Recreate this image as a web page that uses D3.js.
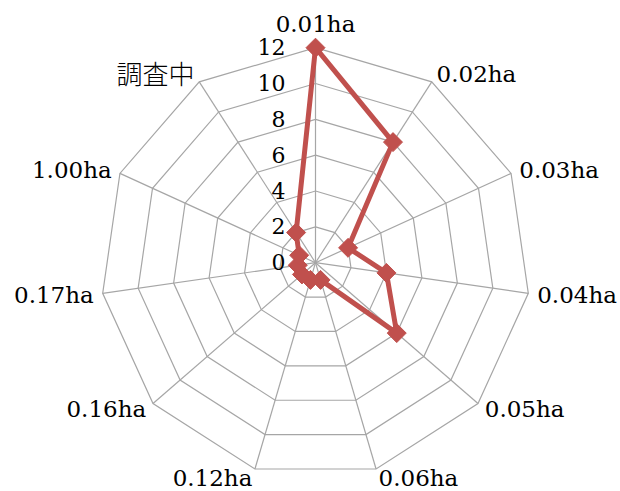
<!DOCTYPE html>
<html>
<head>
<meta charset="utf-8">
<script src="https://cdn.jsdelivr.net/npm/d3@7"></script>
<style>
  html, body { margin: 0; padding: 0; background: #fff; }
  svg { display: block; }
</style>
</head>
<body>
<svg id="chart" width="620" height="491"></svg>
<script>
// Plot area sizes by category
const categories = ["0.01ha", "0.02ha", "0.03ha", "0.04ha", "0.05ha", "0.06ha",
                    "0.12ha", "0.16ha", "0.17ha", "1.00ha", "調査中"];
const counts = [12, 8, 2, 4, 6, 1, 1, 1, 1, 1, 2];
const tickValues = [0, 2, 4, 6, 8, 10, 12];

const width = 620, height = 491;
const cx = 315.5, cy = 262.7, R = 215;
const serif = "'DejaVu Serif', 'Liberation Serif', serif";
const cjk = "'Noto Sans CJK JP', sans-serif";

const svg = d3.select("#chart");
const r = d3.scaleLinear().domain([0, 12]).range([0, R]);
const angle = d3.scalePoint().domain(categories).range([0, 2 * Math.PI * (1 - 1 / categories.length)]);

const pt = (cat, v) => {
  const a = angle(cat);
  return [cx + r(v) * Math.sin(a), cy - r(v) * Math.cos(a)];
};

const g = svg.append("g");

// Concentric grid polygons
const ringLine = d3.line().curve(d3.curveLinearClosed);
g.selectAll("path.ring")
  .data(tickValues.filter(t => t > 0))
  .join("path")
  .attr("class", "ring")
  .attr("d", t => ringLine(categories.map(c => pt(c, t))))
  .attr("fill", "none")
  .attr("stroke", "#a6a6a6")
  .attr("stroke-width", 1.2);

// Spokes
g.selectAll("line.spoke")
  .data(categories)
  .join("line")
  .attr("class", "spoke")
  .attr("x1", cx).attr("y1", cy)
  .attr("x2", c => pt(c, 12)[0])
  .attr("y2", c => pt(c, 12)[1])
  .attr("stroke", "#a6a6a6")
  .attr("stroke-width", 1.2);

// Radial value labels along the first spoke
g.selectAll("text.tick")
  .data(tickValues)
  .join("text")
  .attr("class", "tick")
  .attr("x", cx - 30)
  .attr("y", t => cy - r(t))
  .attr("text-anchor", "end")
  .attr("dominant-baseline", "central")
  .attr("font-family", serif)
  .attr("font-size", 22)
  .attr("fill", "#000")
  .text(t => t);

// Category labels placed just outside the outer vertices
const isCjk = c => /[^\x00-\x7f]/.test(c);
g.selectAll("text.cat")
  .data(categories)
  .join("text")
  .attr("class", "cat")
  .each(function (c) {
    const a = angle(c);
    const s = Math.sin(a), co = Math.cos(a);
    const [vx, vy] = pt(c, 12);
    const anchor = Math.abs(s) < 0.1 ? "middle" : (s > 0 ? "start" : "end");
    let y = vy - co * 9;
    if (co > 0.95) y = vy - 24;
    if (isCjk(c)) y -= 2;
    d3.select(this)
      .attr("x", vx + 9 * s)
      .attr("y", y)
      .attr("text-anchor", anchor)
      .attr("dominant-baseline", "central")
      .attr("font-family", isCjk(c) ? cjk : serif)
      .attr("font-weight", isCjk(c) ? 300 : 400)
      .attr("font-size", isCjk(c) ? 26 : 23)
      .attr("fill", "#000")
      .text(c);
  });

// Data series
const series = categories.map((c, i) => ({ c, v: counts[i] }));
g.append("path")
  .datum(series)
  .attr("d", d => ringLine(d.map(p => pt(p.c, p.v))))
  .attr("fill", "none")
  .attr("stroke", "#c0504d")
  .attr("stroke-width", 5)
  .attr("stroke-linejoin", "round");

const h = 9.5;
g.selectAll("path.marker")
  .data(series)
  .join("path")
  .attr("class", "marker")
  .attr("transform", d => `translate(${pt(d.c, d.v)})`)
  .attr("d", `M0,${-h}L${h},0L0,${h}L${-h},0Z`)
  .attr("fill", "#c0504d")
  .attr("stroke", "#c0504d")
  .attr("stroke-width", 1);
</script>
</body>
</html>
